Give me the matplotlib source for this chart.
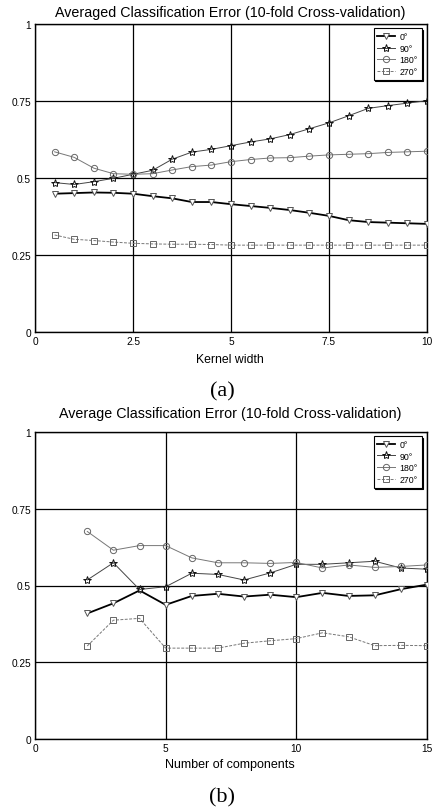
import matplotlib
matplotlib.use("Agg")
import matplotlib.pyplot as plt

plt.rcParams['font.family'] = ['Liberation Sans', 'DejaVu Sans']

# ---- data: panel (a) ----
kernel_width = [0.5, 1.0, 1.5, 2.0, 2.5, 3.0, 3.5, 4.0, 4.5, 5.0,
                5.5, 6.0, 6.5, 7.0, 7.5, 8.0, 8.5, 9.0, 9.5, 10.0]
a_0 = [0.449, 0.451, 0.453, 0.452, 0.449, 0.441, 0.434, 0.422, 0.422, 0.415,
       0.409, 0.403, 0.396, 0.387, 0.377, 0.363, 0.357, 0.355, 0.353, 0.351]
a_90 = [0.485, 0.479, 0.488, 0.499, 0.512, 0.525, 0.561, 0.584, 0.593, 0.605,
        0.617, 0.627, 0.641, 0.660, 0.679, 0.702, 0.726, 0.735, 0.743, 0.751]
a_180 = [0.585, 0.567, 0.532, 0.514, 0.512, 0.514, 0.526, 0.537, 0.542, 0.553,
         0.560, 0.565, 0.566, 0.571, 0.575, 0.577, 0.579, 0.583, 0.585, 0.587]
a_270 = [0.315, 0.301, 0.297, 0.292, 0.288, 0.286, 0.285, 0.285, 0.284, 0.282,
         0.282, 0.282, 0.282, 0.282, 0.282, 0.282, 0.282, 0.282, 0.282, 0.282]

# ---- data: panel (b) ----
n_components = [2, 3, 4, 5, 6, 7, 8, 9, 10, 11, 12, 13, 14, 15]
b_0 = [0.409, 0.442, 0.484, 0.437, 0.466, 0.473, 0.464, 0.470, 0.462, 0.476,
       0.466, 0.468, 0.488, 0.503]
b_90 = [0.518, 0.574, 0.487, 0.496, 0.540, 0.536, 0.518, 0.541, 0.569, 0.569,
        0.574, 0.579, 0.557, 0.553]
b_180 = [0.676, 0.615, 0.630, 0.630, 0.590, 0.574, 0.574, 0.572, 0.575, 0.557,
         0.567, 0.559, 0.562, 0.567]
b_270 = [0.303, 0.387, 0.393, 0.296, 0.296, 0.296, 0.312, 0.320, 0.327, 0.346,
         0.333, 0.304, 0.305, 0.304]

labels = ['0°', '90°', '180°', '270°']
a_xticks = [0, 2.5, 5, 7.5, 10]
a_xticklabels = ['0', '2.5', '5', '7.5', '10']
b_xticks = [0, 5, 10, 15]
b_xticklabels = ['0', '5', '10', '15']
yticks = [0, 0.25, 0.5, 0.75, 1]
yticklabels = ['0', '0.25', '0.5', '0.75', '1']

W, H = 432, 812
fig = plt.figure(figsize=(W / 100, H / 100), dpi=100)

styles = [
    dict(color='black', lw=1.3, ls='-', marker='v', mec='#555555', mfc='white', ms=5, mew=0.7),
    dict(color='#444444', lw=0.7, ls='-', marker='*', mec='#111111', mfc='none', ms=6, mew=0.7),
    dict(color='#777777', lw=0.7, ls='-', marker='o', mec='#666666', mfc='none', ms=4.5, mew=0.7),
    dict(color='#777777', lw=0.7, ls=(0, (3, 1.5)), marker='s', mec='#666666', mfc='none', ms=4.2, mew=0.7),
]


def make_axes(top_px, bottom_px):
    left, right = 35, 427
    return fig.add_axes([left / W, 1 - bottom_px / H, (right - left) / W,
                         (bottom_px - top_px) / H])


def style_axes(ax, xticks, xticklabels, xmax):
    ax.set_xlim(0, xmax)
    ax.set_ylim(0, 1)
    ax.set_xticks(xticks)
    ax.set_xticklabels(xticklabels)
    ax.set_yticks(yticks)
    ax.set_yticklabels(yticklabels)
    ax.tick_params(length=0, labelsize=7.3, pad=3)
    ax.grid(True, color='black', lw=0.9)
    ax.set_axisbelow(True)
    for s in ax.spines.values():
        s.set_color('black')
        s.set_linewidth(1.0)


def draw_panel(ax, xs, series):
    for ys, st, lab in zip(series, styles, labels):
        ax.plot(xs, ys, label=lab, **st, zorder=3)
    leg = ax.legend(loc='upper right', bbox_to_anchor=(0.986, 0.987),
                    borderaxespad=0, fontsize=6.3, handlelength=2.0,
                    handletextpad=0.5, labelspacing=0.3, borderpad=0.45,
                    fancybox=False, framealpha=1, edgecolor='black',
                    shadow={'ox': 1.2, 'oy': -1.2, 'color': 'black', 'alpha': 1})
    leg.get_frame().set_linewidth(0.8)
    leg.set_zorder(5)


# ---- panel (a) ----
ax1 = make_axes(25, 333)
style_axes(ax1, a_xticks, a_xticklabels, 10)
draw_panel(ax1, kernel_width, [a_0, a_90, a_180, a_270])

# ---- panel (b) ----
ax2 = make_axes(433, 740)
style_axes(ax2, b_xticks, b_xticklabels, 15)
draw_panel(ax2, n_components, [b_0, b_90, b_180, b_270])

# ---- texts ----
cx = 230 / W
serif = ['Liberation Serif', 'DejaVu Serif']
fig.text(cx, 1 - 13 / H, 'Averaged Classification Error (10-fold Cross-validation)',
         ha='center', va='center', fontsize=10.3)
fig.text(cx, 1 - 360 / H, 'Kernel width', ha='center', va='center', fontsize=8.8)
fig.text(222 / W, 1 - 392 / H, '(a)', ha='center', va='center', fontsize=16, family=serif)

fig.text(cx, 1 - 414 / H, 'Average Classification Error (10-fold Cross-validation)',
         ha='center', va='center', fontsize=10.3)
fig.text(cx, 1 - 765 / H, 'Number of components', ha='center', va='center', fontsize=9)
fig.text(222 / W, 1 - 798 / H, '(b)', ha='center', va='center', fontsize=16, family=serif)

fig.savefig('out.png', dpi=100, facecolor='white')
